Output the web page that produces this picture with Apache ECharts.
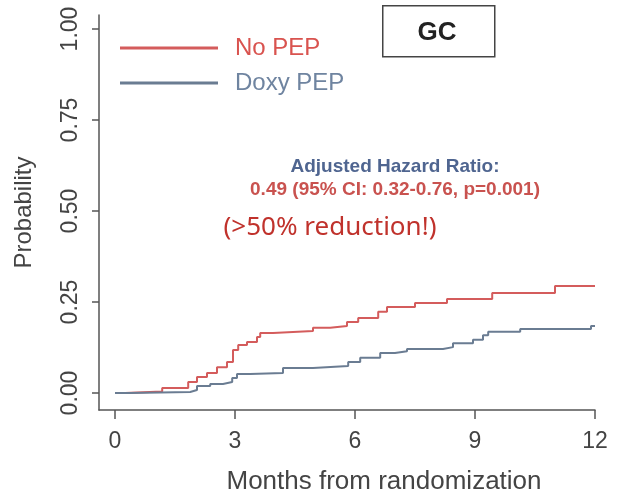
<!DOCTYPE html>
<html>
<head>
<meta charset="utf-8">
<script src="https://cdn.jsdelivr.net/npm/echarts@6/dist/echarts.min.js"></script>
<style>html,body{margin:0;padding:0;background:#fff}#c{width:623px;height:493px}</style>
</head>
<body>
<div id="c"></div>
<script>
// Data (months, cumulative probability)
var noPepMonths = [0, 0.25, 1.18, 1.83, 2.05, 2.3, 2.55, 2.8, 2.95, 3.08, 3.3, 3.55, 3.63, 3.95, 4.95, 5.38, 5.8, 6.08, 6.58, 6.8, 7.5, 8.3, 9.43, 11.0, 12];
var noPepProb   = [0, 0.004, 0.014, 0.03, 0.044, 0.055, 0.071, 0.085, 0.118, 0.132, 0.14, 0.154, 0.165, 0.17, 0.179, 0.184, 0.195, 0.206, 0.223, 0.236, 0.247, 0.258, 0.275, 0.294, 0.294];
var doxyMonths  = [0, 0.38, 1.88, 2.05, 2.38, 2.7, 2.93, 3.05, 3.38, 4.2, 4.95, 5.83, 6.13, 6.63, 7.0, 7.3, 8.2, 8.45, 8.95, 9.2, 9.33, 10.13, 11.9, 12];
var doxyProb    = [0, 0.003, 0.008, 0.019, 0.025, 0.03, 0.041, 0.052, 0.055, 0.069, 0.074, 0.085, 0.097, 0.11, 0.115, 0.121, 0.126, 0.137, 0.146, 0.159, 0.168, 0.176, 0.184, 0.184];
var xTicks = [0, 3, 6, 9, 12];
var yTicks = [0, 0.25, 0.5, 0.75, 1];
var yTickLabels = ['0.00', '0.25', '0.50', '0.75', '1.00'];
var seriesNames = ['No PEP', 'Doxy PEP'];

function pairs(xs, ys) { return xs.map(function (x, i) { return [x, ys[i]]; }); }

var RED = '#d45c5c', BLUE = '#6a7c92';
var FONT = 'Liberation Sans, Arial, sans-serif';

var chart = echarts.init(document.getElementById('c'), null, { renderer: 'canvas' });
chart.setOption({
  animation: false,
  backgroundColor: '#fff',
  grid: { left: 99, right: 28, top: 15, bottom: 83, containLabel: false, outerBoundsMode: 'none' },
  xAxis: {
    type: 'value', min: -0.4, max: 12,
    splitLine: { show: false },
    axisLine: { show: true, onZero: false, lineStyle: { color: '#555', width: 1.5 } },
    axisTick: { show: true, customValues: xTicks, length: 9, lineStyle: { color: '#555', width: 1.5 } },
    axisLabel: { customValues: xTicks, color: '#444', fontSize: 23, fontFamily: FONT, margin: 20 },
    name: 'Months from randomization', nameLocation: 'middle', nameGap: 59,
    nameTextStyle: { color: '#444', fontSize: 26, fontFamily: FONT, padding: [0, 0, 0, 74] }
  },
  yAxis: {
    type: 'value', min: -0.0467, max: 1.0385,
    splitLine: { show: false },
    axisLine: { show: true, onZero: false, lineStyle: { color: '#555', width: 1.5 } },
    axisTick: { show: true, customValues: yTicks, length: 7, lineStyle: { color: '#555', width: 1.5 } },
    axisLabel: {
      customValues: yTicks, rotate: 90, color: '#444', fontSize: 23, fontFamily: FONT, margin: 17,
      formatter: function (v) { var i = yTicks.indexOf(+v); return i >= 0 ? yTickLabels[i] : v.toFixed(2); }
    },
    name: 'Probability', nameLocation: 'middle', nameGap: 63,
    nameTextStyle: { color: '#444', fontSize: 24, fontFamily: FONT }
  },
  legend: {
    orient: 'vertical', left: 120, top: 36, padding: 0, itemWidth: 98, itemHeight: 3, itemGap: 11,
    icon: 'rect',
    textStyle: { fontSize: 24, lineHeight: 24, fontFamily: FONT, padding: [0, 0, 0, 12] },
    data: [
      { name: seriesNames[0], textStyle: { color: '#d9534f' } },
      { name: seriesNames[1], textStyle: { color: '#6f84a0' } }
    ]
  },
  series: [
    { name: seriesNames[0], type: 'line', step: 'end', showSymbol: false, symbol: 'none',
      data: pairs(noPepMonths, noPepProb), color: RED, lineStyle: { color: RED, width: 2 } },
    { name: seriesNames[1], type: 'line', step: 'end', showSymbol: false, symbol: 'none',
      data: pairs(doxyMonths, doxyProb), color: BLUE, lineStyle: { color: BLUE, width: 2 } }
  ],
  graphic: [
    { type: 'rect', left: 382, top: 5, shape: { width: 112, height: 51 },
      style: { fill: '#fff', stroke: '#444', lineWidth: 1.5 } },
    { type: 'text', x: 437, y: 33, style: { text: 'GC', fill: '#222', font: 'bold 26px ' + FONT, textAlign: 'center', textVerticalAlign: 'middle' } },
    { type: 'text', x: 395, y: 167, style: { text: 'Adjusted Hazard Ratio:', fill: '#4f6590', font: 'bold 19px ' + FONT, textAlign: 'center', textVerticalAlign: 'middle' } },
    { type: 'text', x: 395, y: 190, style: { text: '0.49 (95% CI: 0.32-0.76, p=0.001)', fill: '#c9524f', font: 'bold 19px ' + FONT, textAlign: 'center', textVerticalAlign: 'middle' } },
    { type: 'text', x: 330, y: 228, style: { text: '(>50% reduction!)', fill: '#c0322c', font: '26px "Noto Sans", sans-serif', textAlign: 'center', textVerticalAlign: 'middle' } }
  ]
});
</script>
</body>
</html>
